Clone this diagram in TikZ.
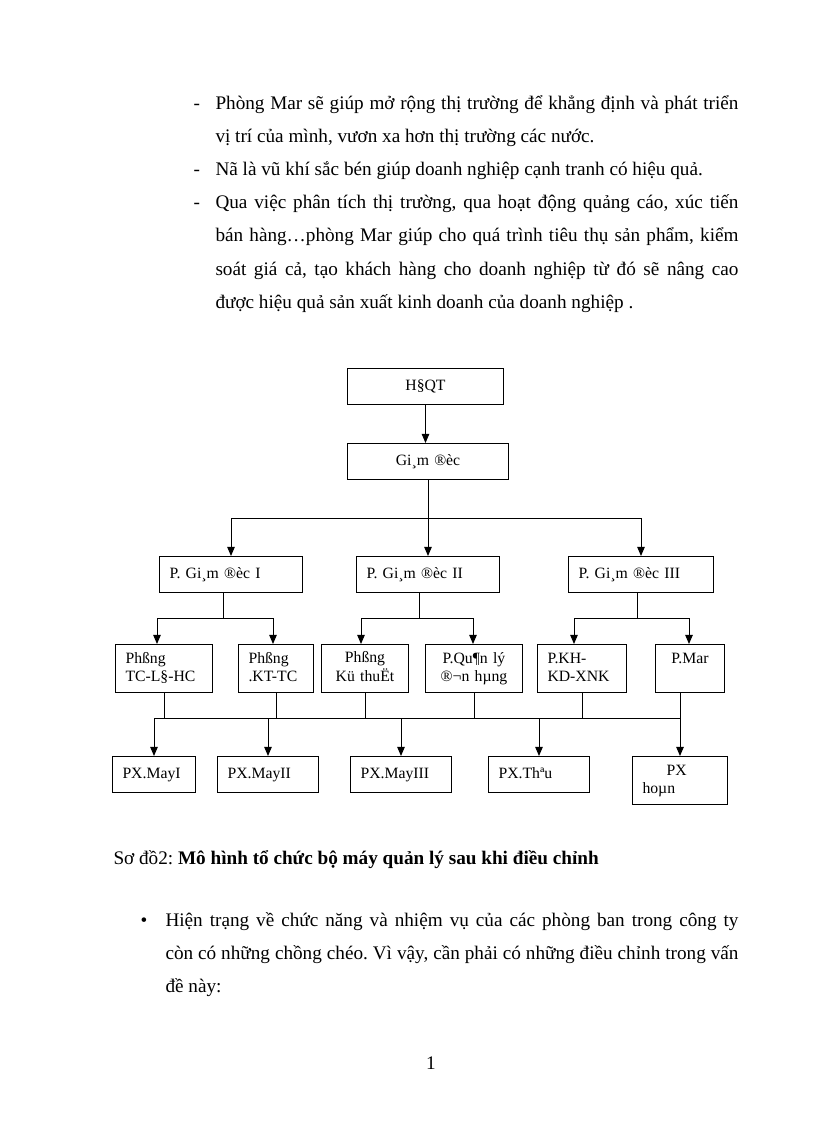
\documentclass[tikz,border=0pt]{standalone}
\usepackage{fontspec}
\setmainfont{Liberation Serif}
\usetikzlibrary{arrows.meta}
\frenchspacing
\newcommand{\bodyfont}{\fontsize{14.4}{17}\selectfont}
\newcommand{\boxfont}{\fontsize{11.8}{13.5}\selectfont}
\begin{document}
\begin{tikzpicture}[x=0.75pt, y=-0.75pt, line width=0.75pt, >={Triangle[length=6.8pt,width=5.6pt]}]
		\tikzstyle{txt}=[anchor=base west, inner sep=0pt, font=\bodyfont]
		\tikzstyle{box}=[draw, anchor=north west, inner xsep=7.5pt, inner ysep=0pt, font=\boxfont, align=left, execute at begin node=\strut, execute at end node=\strut]
		\tikzstyle{lowbox}=[minimum height=27pt]
		\tikzstyle{highbox}=[minimum height=36pt]
		\useasboundingbox[fill=white] (0,0) rectangle (816,1123);
		% text above the chart
		\node[txt](d1)at(193,110){-};
		\node[txt](p1)at(215,110){\makebox[392.25pt][s]{Phòng Mar sẽ giúp mở rộng thị trường để khẳng định và phát triển}};
		\node[txt](p2)at(215,143){vị trí của mình, vươn xa hơn thị trường các nước.};
		\node[txt](d2)at(193,176){-};
		\node[txt](p3)at(215,176){Nã là vũ khí sắc bén giúp doanh nghiệp cạnh tranh có hiệu quả.};
		\node[txt](d3)at(193,209){-};
		\node[txt](p4)at(215,209){\makebox[392.25pt][s]{Qua việc phân tích thị trường, qua hoạt động quảng cáo, xúc tiến}};
		\node[txt](p5)at(215,242){\makebox[392.25pt][s]{bán hàng…phòng Mar giúp cho quá trình tiêu thụ sản phẩm, kiểm}};
		\node[txt](p6)at(215,275){\makebox[392.25pt][s]{soát giá cả, tạo khách hàng cho doanh nghiệp từ đó sẽ nâng cao}};
		\node[txt](p7)at(215,308){được hiệu quả sản xuất kinh doanh của doanh nghiệp .};
		% chart
		\node[box,lowbox,text width=102pt,align=center](hdqt)at(347,368){H§QT};
		\node[box,lowbox,text width=105.75pt,align=center](gd)at(347,443){Gi¸m ®èc};
		\node[box,lowbox,text width=92.25pt](pgd1)at(159,556){P. Gi¸m ®èc I};
		\node[box,lowbox,text width=92.25pt](pgd2)at(356,556){P. Gi¸m ®èc II};
		\node[box,lowbox,text width=93.75pt](pgd3)at(568,556){P. Gi¸m ®èc III};
		\node[box,highbox,text width=57.75pt](tc)at(115,644){Phßng\\TC-L§-HC};
		\node[box,highbox,text width=41.25pt](kt)at(238,644){Phßng\\.KT-TC};
		\node[box,highbox,text width=50.25pt,align=center](kth)at(321,644){Phßng\\Kü thuËt};
		\node[box,highbox,text width=57.75pt,align=center](ql)at(425,644){P.Qu¶n lý\\®¬n hµng};
		\node[box,highbox,text width=51.75pt](kh)at(537,644){P.KH-\\KD-XNK};
		\node[box,highbox,text width=36.75pt,align=center](mar)at(655,644){P.Mar\\\phantom{P}};
		\node[box,lowbox,text width=47.25pt](may1)at(112,756){PX.MayI};
		\node[box,lowbox,text width=60.75pt](may2)at(217,756){PX.MayII};
		\node[box,lowbox,text width=60.75pt](may3)at(350,756){PX.MayIII};
		\node[box,lowbox,text width=60.75pt](theu)at(488,756){PX.Thªu};
		\node[box,highbox,text width=56.25pt](hoan)at(632,756){\hspace*{18pt}PX\\hoµn};
		\draw[->] (hdqt.south) -- (hdqt.south |- gd.north);
		\draw[->] (gd.south) -- (gd.south |- pgd2.north);
		\coordinate (j1) at (0,518);
		\draw[<->] (pgd1.north) -- (pgd1.north |- j1) -- (pgd3.north |- j1) -- (pgd3.north);
		% giam doc -> phong ban
		\coordinate (b1) at (223,618);
		\coordinate (b2) at (419,618);
		\coordinate (b3) at (637,618);
		\draw (b1 |- pgd1.south) -- (b1);
		\draw (b2 |- pgd2.south) -- (b2);
		\draw (b3 |- pgd3.south) -- (b3);
		\coordinate (a1) at (157,618);
		\coordinate (a2) at (273,618);
		\coordinate (a3) at (361,618);
		\coordinate (a4) at (473,618);
		\coordinate (a5) at (574,618);
		\coordinate (a6) at (689,618);
		\draw[<->] (a1 |- tc.north) -- (a1) -- (a2) -- (a2 |- kt.north);
		\draw[<->] (a3 |- kth.north) -- (a3) -- (a4) -- (a4 |- ql.north);
		\draw[<->] (a5 |- kh.north) -- (a5) -- (a6) -- (a6 |- mar.north);
		% phong ban -> phan xuong
		\coordinate (bus) at (0,718);
		\foreach \n in {tc,kt,kth,ql,kh}
			\draw (\n.south) -- (\n.south |- bus);
		\draw (hoan.north |- mar.south) -- (hoan.north |- bus);
		\draw (may1.north |- bus) -- (hoan.north |- bus);
		\foreach \n in {may1,may2,may3,theu,hoan}
			\draw[->] (\n.north |- bus) -- (\n.north);
		% text below the chart
		\node[txt](cap)at(113,864){Sơ đồ2: \textbf{Mô hình tổ chức bộ máy quản lý sau khi điều chỉnh}};
		\node[txt](bl)at(140,926){\textbullet};
		\node[txt](q1)at(165,926){\makebox[429.75pt][s]{Hiện trạng về chức năng và nhiệm vụ của các phòng ban trong công ty}};
		\node[txt](q2)at(165,959){\makebox[429.75pt][s]{còn có những chồng chéo. Vì vậy, cần phải có những điều chỉnh trong vấn}};
		\node[txt](q3)at(165,992){đề này:};
		\node[anchor=base, inner sep=0pt, font=\bodyfont](pg)at(431,1069){1};
\end{tikzpicture}
\end{document}
